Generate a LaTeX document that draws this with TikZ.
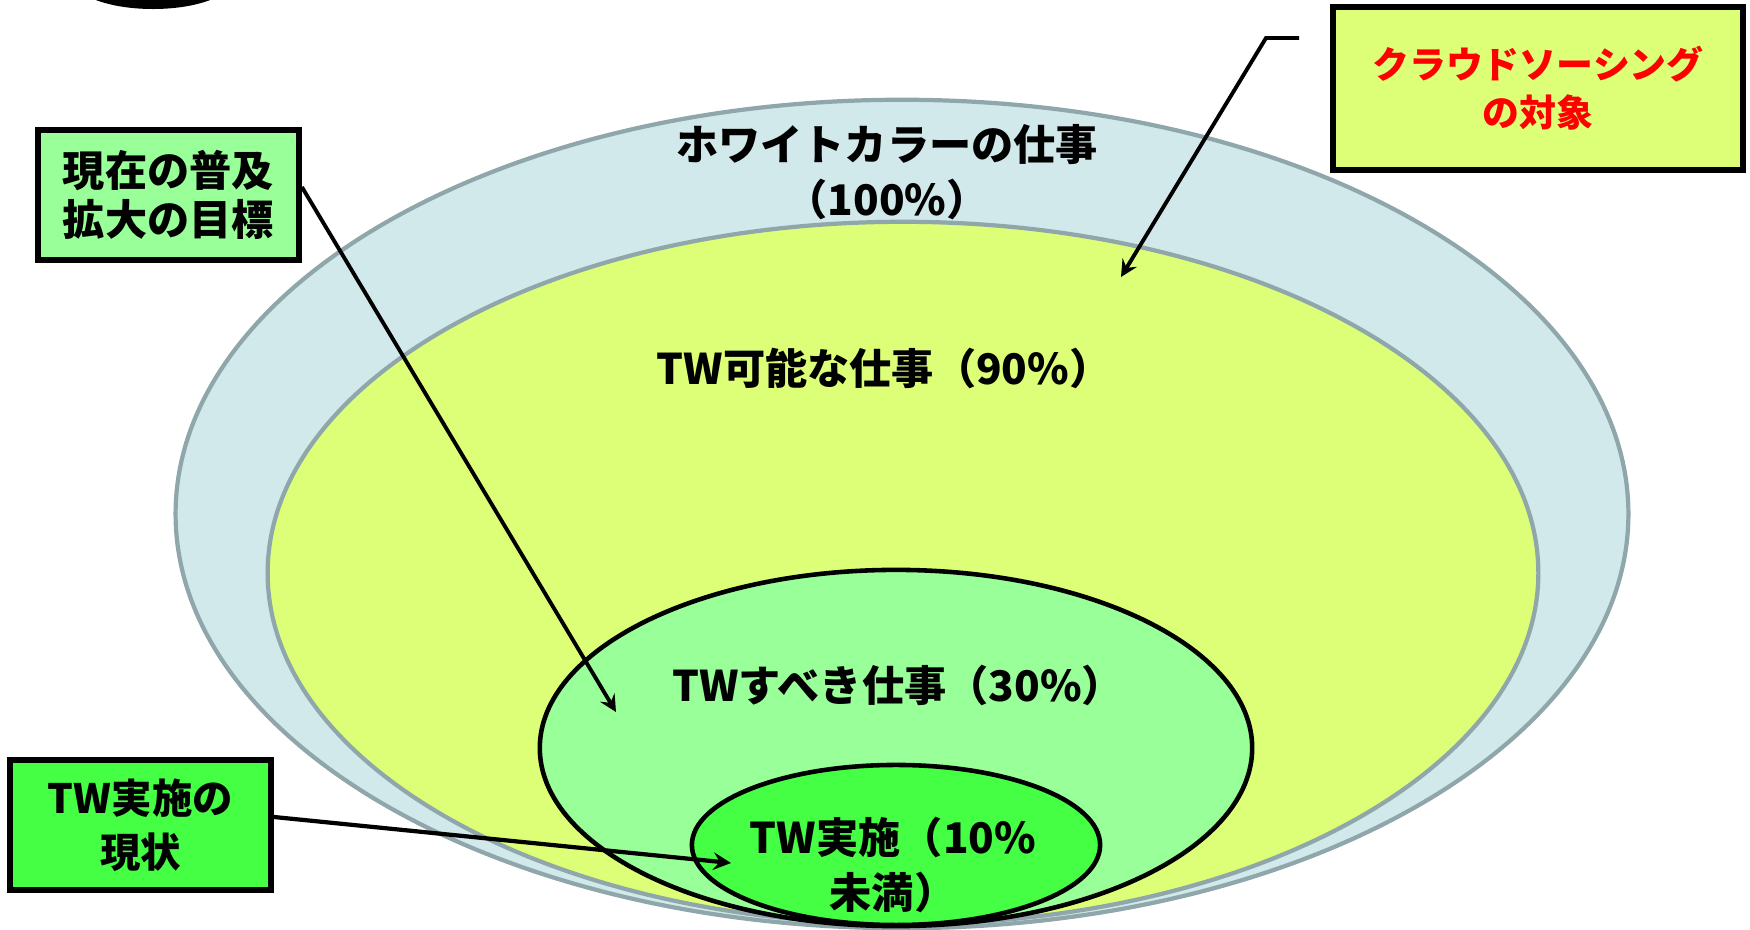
\documentclass[tikz,border=0pt]{standalone}
\usepackage{fontspec}
\setmainfont{Noto Sans CJK JP}
\usepackage{tikz}
\usetikzlibrary{arrows,shapes}
\usetikzlibrary{positioning}
\definecolor{skyfill}{HTML}{D2E9EB}
\definecolor{skyline}{HTML}{8FA6AA}
\definecolor{lemon}{HTML}{DDFF77}
\definecolor{mint}{HTML}{99FF99}
\definecolor{lime}{HTML}{44FF44}
\tikzstyle{oval} = [draw, ellipse, inner sep=0pt]
\tikzstyle{tag} = [draw, rectangle, line width=1.6pt, align=center,
    minimum width=2.61cm, minimum height=1.3cm,
    font=\bfseries\fontsize{12}{13.8}\selectfont]
\tikzstyle{txt} = [align=center, font=\bfseries\fontsize{12}{15.5}\selectfont]

\begin{document}
\begin{tikzpicture}[x=0.01cm, y=0.01cm]
  \useasboundingbox (0,0) rectangle (1750,930);
  \fill (153,951) ellipse [x radius=0.8cm, y radius=0.3cm];
  \node [oval, draw=skyline, fill=skyfill, line width=1.2pt, minimum width=14.52cm, minimum height=8.28cm] (white) at (902,416) {};
  \node [oval, draw=skyline, fill=lemon, line width=1.2pt, minimum width=12.7cm, minimum height=7.02cm] (able) at (903,357) {};
  \node [oval, fill=mint, line width=1.3pt, minimum width=7.12cm, minimum height=3.56cm] (should) at (896,182) {};
  \node [oval, fill=lime, line width=1.3pt, minimum width=4.08cm, minimum height=1.6cm] (done) at (896,85) {};
  \node [txt] (whitetxt) at (887,758) {ホワイトカラーの仕事\\（100\%）};
  \node [txt] (abletxt) at (884,562) {TW可能な仕事（90\%）};
  \node [txt] (shouldtxt) at (898,245) {TWすべき仕事（30\%）};
  \node [txt] (donetxt) at (893,65) {TW実施（10\%\\未満）};
  \node [tag, fill=lemon, text=red, minimum width=4.1cm, minimum height=1.63cm,
    font=\bfseries\fontsize{10.5}{13.6}\selectfont] (crowd) at (1538,841.5) {クラウドソーシング\\の対象};
  \node [tag, fill=mint] (goal) at (168.5,735) {現在の普及\\拡大の目標};
  \node [tag, fill=lime, font=\bfseries\fontsize{11.5}{15.3}\selectfont] (now) at (140.5,105) {TW実施の\\現状};
  \coordinate (goaltip) at (616,218);
  \coordinate (nowtip) at (731,67);
  \coordinate (crowdend) at (1299,892);
  \coordinate (crowdbend) at (1266,892);
  \coordinate (crowdtip) at (1121,653);
  \draw [-stealth, line width=1.1pt] ([yshift=0.08cm]goal.east) -- (goaltip);
  \draw [-stealth, line width=1.2pt] ([yshift=0.08cm]now.east) -- (nowtip);
  \draw [-stealth, line width=1.1pt] (crowdend) -- (crowdbend) -- (crowdtip);
\end{tikzpicture}
\end{document}
